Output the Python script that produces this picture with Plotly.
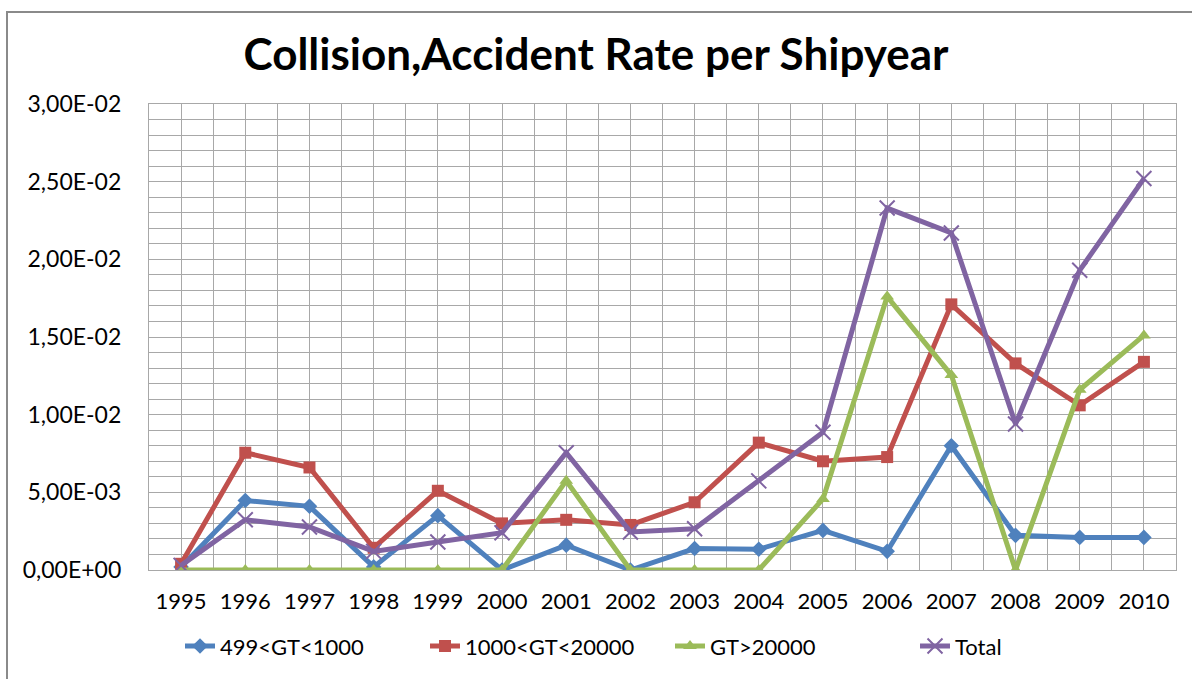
import plotly.graph_objects as go

years = list(range(1995, 2011))
small = [0.0002, 0.00447, 0.0041, 0.0002, 0.0035, 0.0, 0.0016, 0.0, 0.00138, 0.00134, 0.00255, 0.0012, 0.0080, 0.00223, 0.0021, 0.0021]
medium = [0.0004, 0.00755, 0.0066, 0.00143, 0.0051, 0.0030, 0.00323, 0.0029, 0.00436, 0.0082, 0.0070, 0.00727, 0.0171, 0.0133, 0.0106, 0.0134]
large = [0.0, 0.0, 0.0, 0.0, 0.0, 0.0, 0.00575, 0.0, 0.0, 0.0, 0.00457, 0.0176, 0.01255, 0.0, 0.0116, 0.0151]
total = [0.0003, 0.00323, 0.00277, 0.0012, 0.0018, 0.0024, 0.00755, 0.00245, 0.00266, 0.00574, 0.00887, 0.0233, 0.0217, 0.0094, 0.0193, 0.0252]

names = ["499<GT<1000", "1000<GT<20000", "GT>20000", "Total"]
colors = ["#4F81BD", "#C0504D", "#9BBB59", "#8064A2"]
symbols = ["diamond", "square", "triangle-up", "x-thin"]
series = [small, medium, large, total]

ytick_vals = [0, 0.005, 0.01, 0.015, 0.02, 0.025, 0.03]
ytick_text = ["0,00E+00", "5,00E-03", "1,00E-02", "1,50E-02", "2,00E-02", "2,50E-02", "3,00E-02"]

FONT = "Lato"
fig = go.Figure()
for name, col, sym, vals in zip(names, colors, symbols, series):
    marker = dict(symbol=sym, size=12, color=col)
    if sym == "x-thin":
        marker = dict(symbol=sym, size=15, color=col, line=dict(width=2, color=col))
    fig.add_trace(go.Scatter(x=years, y=vals, name=name, mode="lines+markers",
                             line=dict(color=col, width=5), marker=marker))

grid = "#a8a8a8"
fig.update_layout(
    width=1192, height=679,
    margin=dict(l=149, r=16, t=104, b=104),
    paper_bgcolor="white", plot_bgcolor="white",
    font=dict(family=FONT, size=22, color="#000000"),
    title=dict(text="<b>Collision,Accident Rate per Shipyear</b>", x=0.5, xanchor="center",
               y=1 - 55 / 679, yanchor="middle", font=dict(family=FONT, size=44, color="#000")),
    showlegend=True,
    legend=dict(orientation="h", x=(180 - 149) / 1027, xanchor="left", y=(575 - 652) / 471, yanchor="middle",
                font=dict(family=FONT, size=22), tracegroupgap=0,
                entrywidth=200, entrywidthmode="pixels"),
    xaxis=dict(range=[1994.5, 2010.5], tickvals=years, ticktext=[str(y) for y in years],
               showgrid=True, gridcolor=grid, gridwidth=1.3, zeroline=False,
               showline=True, linecolor=grid, linewidth=1.3, mirror=True, ticks="",
               minor=dict(tickvals=[y + 0.5 for y in range(1994, 2011)], showgrid=True, gridcolor=grid, gridwidth=1.3),
               tickfont=dict(family=FONT, size=22), ticklabelstandoff=11),
    yaxis=dict(range=[0, 0.03], tickvals=ytick_vals, ticktext=ytick_text,
               showgrid=True, gridcolor=grid, gridwidth=1.3, zeroline=False,
               showline=True, linecolor=grid, linewidth=1.3, mirror=True, ticks="",
               minor=dict(dtick=0.001, showgrid=True, gridcolor=grid, gridwidth=1.3),
               tickfont=dict(family=FONT, size=23), ticklabelstandoff=22),
)
fig.add_shape(type="rect", xref="paper", yref="paper",
              x0=(7 - 149) / 1027, x1=(1200 - 149) / 1027,
              y0=(575 - 690) / 471, y1=(575 - 11) / 471,
              line=dict(color="#8a8a8a", width=2), layer="below")
fig.write_html("out.html")
